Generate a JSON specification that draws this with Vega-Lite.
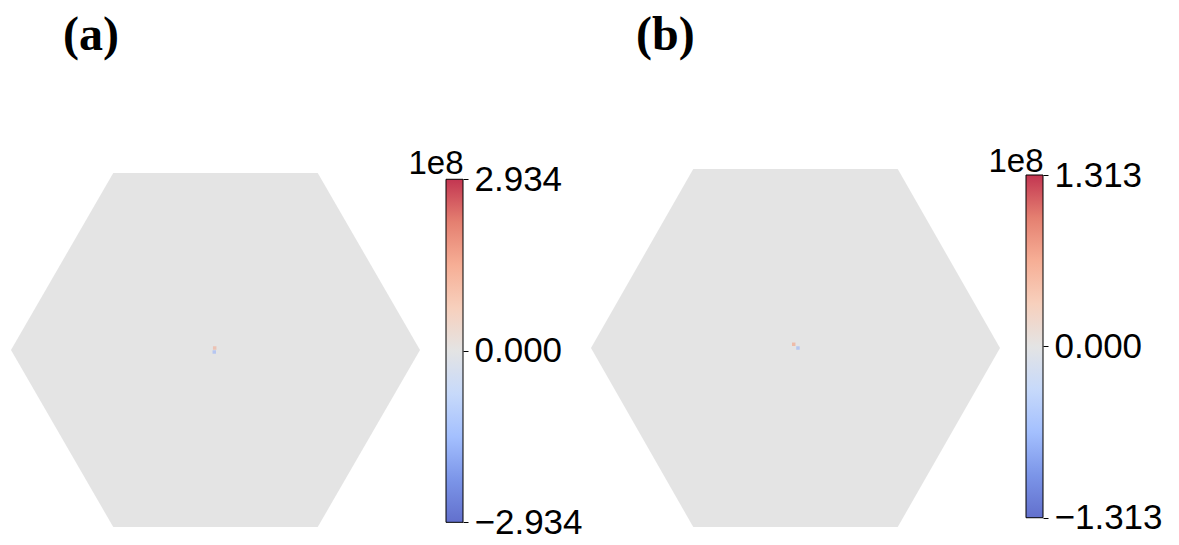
{
  "$schema": "https://vega.github.io/schema/vega-lite/v6.json",
  "padding": {"left": 11, "top": 12, "right": 0, "bottom": 0},
  "autosize": {"type": "pad"},
  "background": "white",
  "config": {"view": {"stroke": null}, "font": "Liberation Sans"},
  "datasets": {
    "hexagon": [
      {"x": -1, "y": 0, "y2": 0},
      {"x": -0.5, "y": -0.866, "y2": 0.866},
      {"x": 0.5, "y": -0.866, "y2": 0.866},
      {"x": 1, "y": 0, "y2": 0}
    ],
    "dotsA": [
      {"x": -0.004, "y": 0.0098, "v": 0.8},
      {"x": -0.006, "y": -0.0098, "v": -1.0}
    ],
    "dotsB": [
      {"x": -0.0088, "y": 0.018, "v": 0.45},
      {"x": 0.012, "y": 0.0, "v": -0.45}
    ],
    "barA": [{"lo": -2.934, "hi": 2.934}],
    "barB": [{"lo": -1.313, "hi": 1.313}]
  },
  "bounds": "flush",
  "spacing": 26,
  "resolve": {"scale": {"x": "independent", "y": "independent", "color": "independent"}},
  "hconcat": [
    {
      "width": 409,
      "height": 358,
      "title": {"text": "(a)", "anchor": "start", "frame": "group", "font": "Liberation Serif", "fontSize": 48, "fontWeight": "bold", "color": "black", "dx": 52, "offset": 71, "baseline": "alphabetic"},
      "layer": [
        {
          "data": {"name": "hexagon"},
          "mark": {"type": "area", "orient": "vertical", "color": "#dddddd", "opacity": 0.8},
          "encoding": {
            "x": {"field": "x", "type": "quantitative", "scale": {"domain": [-1, 1], "nice": false, "zero": false}, "axis": null},
            "y": {"field": "y", "type": "quantitative", "scale": {"domain": [-0.866, 0.8856], "nice": false, "zero": false}, "axis": null},
            "y2": {"field": "y2"}
          }
        },
        {
          "data": {"name": "dotsA"},
          "mark": {"type": "square", "size": 12, "opacity": 0.8},
          "encoding": {
            "x": {"field": "x", "type": "quantitative", "scale": {"domain": [-1, 1], "nice": false, "zero": false}, "axis": null},
            "y": {"field": "y", "type": "quantitative", "scale": {"domain": [-0.866, 0.8856], "nice": false, "zero": false}, "axis": null},
            "color": {"field": "v", "type": "quantitative", "legend": null, "scale": {"domain": [-2.934, -1.467, 0, 1.467, 2.934], "range": ["#3b4cc0", "#8db0fe", "#dddddd", "#f49a7b", "#b40426"]}}
          }
        }
      ]
    },
    {
      "width": 17,
      "height": 358,
      "data": {"name": "barA"},
      "mark": {"type": "rect", "stroke": "black", "strokeWidth": 1, "fillOpacity": 0.8, "fill": {"gradient": "linear", "x1": 0, "y1": 1, "x2": 0, "y2": 0, "stops": [
        {"offset": 0, "color": "#3b4cc0"}, {"offset": 0.125, "color": "#5b7be3"}, {"offset": 0.25, "color": "#8db0fe"}, {"offset": 0.375, "color": "#b9d0f9"}, {"offset": 0.5, "color": "#dddddd"}, {"offset": 0.625, "color": "#f5c4ac"}, {"offset": 0.75, "color": "#f49a7b"}, {"offset": 0.875, "color": "#de604d"}, {"offset": 1, "color": "#b40426"}]}},
      "encoding": {
        "y": {"field": "lo", "type": "quantitative", "scale": {"domain": [-3.014, 3.11], "nice": false, "zero": false},
          "axis": {"orient": "right", "values": [-2.934, 0, 2.934], "format": ".3f", "domain": false, "grid": false, "ticks": true, "tickSize": 5, "tickColor": "black", "tickWidth": 1, "labelFontSize": 35, "labelFont": "Liberation Sans", "labelColor": "black", "labelPadding": 6, "labelFlush": false, "labelOverlap": false, "labelBound": false,
            "title": "1e8", "titleAngle": 0, "titleX": 0, "titleY": 4, "titleAlign": "right", "titleBaseline": "alphabetic", "titleFontSize": 33, "titleFontWeight": "normal", "titleFont": "Liberation Sans", "titleColor": "black"}},
        "y2": {"field": "hi"}
      }
    },
    {
      "width": 511,
      "height": 358,
      "title": {"text": "(b)", "anchor": "start", "frame": "group", "font": "Liberation Serif", "fontSize": 48, "fontWeight": "bold", "color": "black", "dx": 147, "offset": 71, "baseline": "alphabetic"},
      "layer": [
        {
          "data": {"name": "hexagon"},
          "mark": {"type": "area", "orient": "vertical", "color": "#dddddd", "opacity": 0.8},
          "encoding": {
            "x": {"field": "x", "type": "quantitative", "scale": {"domain": [-1.4988, 1], "nice": false, "zero": false}, "axis": null},
            "y": {"field": "y", "type": "quantitative", "scale": {"domain": [-0.866, 0.866], "nice": false, "zero": false}, "axis": null},
            "y2": {"field": "y2"}
          }
        },
        {
          "data": {"name": "dotsB"},
          "mark": {"type": "square", "size": 12, "opacity": 0.8},
          "encoding": {
            "x": {"field": "x", "type": "quantitative", "scale": {"domain": [-1.4988, 1], "nice": false, "zero": false}, "axis": null},
            "y": {"field": "y", "type": "quantitative", "scale": {"domain": [-0.866, 0.866], "nice": false, "zero": false}, "axis": null},
            "color": {"field": "v", "type": "quantitative", "legend": null, "scale": {"domain": [-1.313, -0.6565, 0, 0.6565, 1.313], "range": ["#3b4cc0", "#8db0fe", "#dddddd", "#f49a7b", "#b40426"]}}
          }
        }
      ]
    },
    {
      "width": 17,
      "height": 358,
      "data": {"name": "barB"},
      "mark": {"type": "rect", "stroke": "black", "strokeWidth": 1, "fillOpacity": 0.8, "fill": {"gradient": "linear", "x1": 0, "y1": 1, "x2": 0, "y2": 0, "stops": [
        {"offset": 0, "color": "#3b4cc0"}, {"offset": 0.125, "color": "#5b7be3"}, {"offset": 0.25, "color": "#8db0fe"}, {"offset": 0.375, "color": "#b9d0f9"}, {"offset": 0.5, "color": "#dddddd"}, {"offset": 0.625, "color": "#f5c4ac"}, {"offset": 0.75, "color": "#f49a7b"}, {"offset": 0.875, "color": "#de604d"}, {"offset": 1, "color": "#b40426"}]}},
      "encoding": {
        "y": {"field": "lo", "type": "quantitative", "scale": {"domain": [-1.384, 1.359], "nice": false, "zero": false},
          "axis": {"orient": "right", "values": [-1.313, 0, 1.313], "format": ".3f", "domain": false, "grid": false, "ticks": true, "tickSize": 5, "tickColor": "black", "tickWidth": 1, "labelFontSize": 35, "labelFont": "Liberation Sans", "labelColor": "black", "labelPadding": 6, "labelFlush": false, "labelOverlap": false, "labelBound": false,
            "title": "1e8", "titleAngle": 0, "titleX": 0, "titleY": 2, "titleAlign": "right", "titleBaseline": "alphabetic", "titleFontSize": 33, "titleFontWeight": "normal", "titleFont": "Liberation Sans", "titleColor": "black"}},
        "y2": {"field": "hi"}
      }
    }
  ]
}
